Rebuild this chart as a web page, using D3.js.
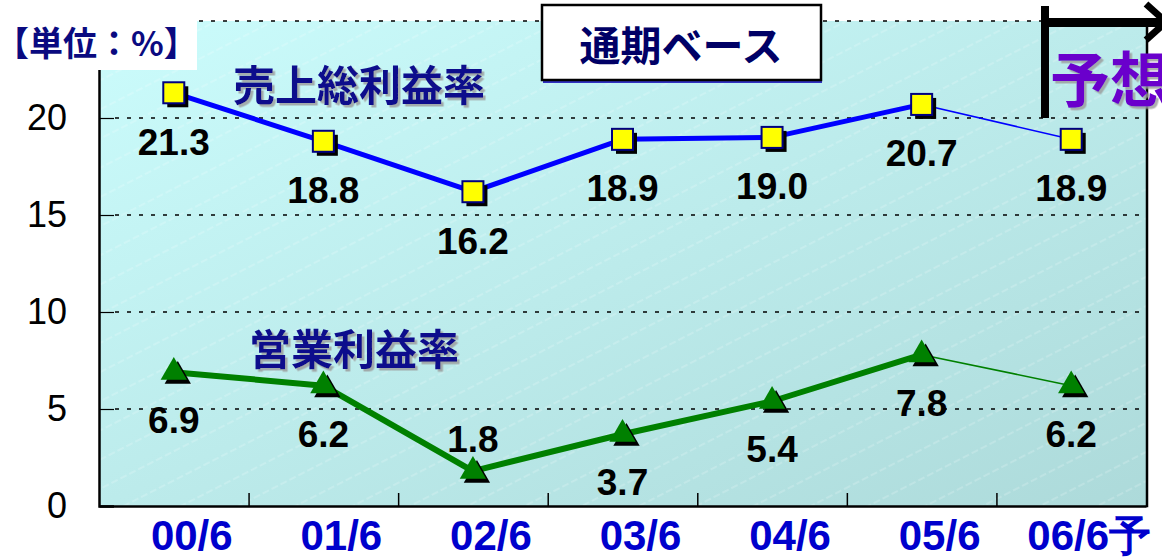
<!DOCTYPE html>
<html lang="ja">
<head>
<meta charset="UTF-8">
<title>通期ベース 利益率</title>
<script src="https://d3js.org/d3.v7.min.js"></script>
<style>
    body { margin: 0; background: #fff; }
    svg { display: block; }
    .num { font-family: "Liberation Sans", Arial, sans-serif; font-weight: bold; }
    .jp { font-family: "Noto Sans CJK JP", "Liberation Sans", sans-serif; font-weight: bold; }
</style>
</head>
<body>
<svg width="1162" height="557"></svg>
<script>
// data
const categories = ["00/6", "01/6", "02/6", "03/6", "04/6", "05/6", "06/6"];
const categoryLabels = ["00/6", "01/6", "02/6", "03/6", "04/6", "05/6", "06/6予"];
const grossMargin = [21.3, 18.8, 16.2, 18.9, 19.0, 20.7, 18.9];
const opMargin = [6.9, 6.2, 1.8, 3.7, 5.4, 7.8, 6.2];
const yTicks = [0, 5, 10, 15, 20];
const gridValues = [5, 10, 15, 20, 25];
const grossName = "売上総利益率";
const opName = "営業利益率";
const unitText = "【単位：%】";
const baseText = "通期ベース";
const forecastText = "予想";

const svg = d3.select("svg");
const plotLeft = 99, plotRight = 1146, plotTop = 21, plotBottom = 506;

const x = d3.scaleBand().domain(categories).range([plotLeft, plotRight]);
const xEdge = d3.scaleLinear().domain([0, categories.length]).range([plotLeft, plotRight]);
const y = d3.scaleLinear().domain([0, 25]).range([plotBottom, plotTop]);
const cx = c => x(c) + x.bandwidth() / 2;

const defs = svg.append("defs");
const grad = defs.append("linearGradient").attr("id", "bg")
    .attr("x1", "0").attr("y1", "0").attr("x2", "1").attr("y2", "1");
grad.append("stop").attr("offset", "0%").attr("stop-color", "#cbfcfc");
grad.append("stop").attr("offset", "100%").attr("stop-color", "#addada");

const pat = defs.append("pattern").attr("id", "stripes")
    .attr("patternUnits", "userSpaceOnUse").attr("width", 40).attr("height", 26)
    .attr("patternTransform", "rotate(-27)");
pat.append("line").attr("x1", 0).attr("y1", 13).attr("x2", 40).attr("y2", 13)
    .attr("stroke", "#ffffff").attr("stroke-opacity", 0.35).attr("stroke-width", 1)
    .attr("stroke-dasharray", "7 3");

// soft gray shadow for the titles
const shadow = defs.append("filter").attr("id", "shadow")
    .attr("x", "-5%").attr("y", "-10%").attr("width", "115%").attr("height", "130%");
shadow.append("feDropShadow").attr("dx", 2.5).attr("dy", 2.5).attr("stdDeviation", 0.6)
    .attr("flood-color", "#9a9a9a").attr("flood-opacity", 0.8);

// plot background
svg.append("rect").attr("x", plotLeft).attr("y", plotTop)
    .attr("width", plotRight - plotLeft).attr("height", plotBottom - plotTop).attr("fill", "url(#bg)");
svg.append("rect").attr("x", plotLeft).attr("y", plotTop)
    .attr("width", plotRight - plotLeft).attr("height", plotBottom - plotTop).attr("fill", "url(#stripes)");

// dashed gridlines
svg.append("g").selectAll("line").data(gridValues).join("line")
    .attr("x1", plotLeft + 16).attr("x2", plotRight)
    .attr("y1", d => y(d)).attr("y2", d => y(d))
    .attr("stroke", "#000").attr("stroke-width", 1.4).attr("stroke-dasharray", "4 8");

// y axis
const yAxis = svg.append("g").attr("transform", `translate(${plotLeft},0)`)
    .call(d3.axisLeft(y).tickValues(yTicks).tickSize(-15).tickPadding(32));
yAxis.select(".domain").attr("stroke-width", 2.5);
yAxis.selectAll(".tick line").attr("stroke-width", 1.2);
yAxis.selectAll(".tick text")
    .attr("font-family", "'Liberation Sans', Arial, sans-serif")
    .attr("font-size", 36).attr("fill", "#000");

// bottom axis, ticks at category edges pointing inward
const xAxis = svg.append("g").attr("transform", `translate(0,${plotBottom})`)
    .call(d3.axisBottom(xEdge).tickValues(d3.range(1, categories.length))
        .tickSize(-13).tickSizeOuter(0).tickFormat(""));
xAxis.select(".domain").attr("stroke-width", 2.5);
xAxis.selectAll(".tick line").attr("stroke-width", 1.5);

// right frame
svg.append("line").attr("x1", plotRight + 1).attr("x2", plotRight + 1)
    .attr("y1", plotTop).attr("y2", plotBottom + 1.2)
    .attr("stroke", "#000").attr("stroke-width", 2.5);

// category labels
svg.append("g").selectAll("text").data(categoryLabels).join("text")
    .attr("class", "num")
    .attr("x", (d, i) => cx(categories[i]) + 18)
    .attr("y", 550)
    .attr("text-anchor", "middle")
    .attr("font-size", 42)
    .attr("fill", "#0000cc")
    .text(d => d);

function drawSeries(values, color, width) {
    const pts = values.map((v, i) => [cx(categories[i]), y(v)]);
    const last = pts.length - 1;
    const line = d3.line();
    svg.append("path").attr("d", line(pts.slice(0, last)))
        .attr("fill", "none").attr("stroke", color).attr("stroke-width", width)
        .attr("stroke-linejoin", "round");
    svg.append("path").attr("d", line(pts.slice(last - 1)))
        .attr("fill", "none").attr("stroke", color).attr("stroke-width", 1.6);
    return pts;
}

// gross margin
const gPts = drawSeries(grossMargin, "#0000ff", 5);
const sq = 21;
svg.append("g").selectAll("rect").data(gPts).join("rect")
    .attr("x", d => d[0] - sq / 2 + 4).attr("y", d => d[1] - sq / 2 + 4)
    .attr("width", sq).attr("height", sq).attr("fill", "#000");
svg.append("g").selectAll("rect").data(gPts).join("rect")
    .attr("x", d => d[0] - sq / 2).attr("y", d => d[1] - sq / 2)
    .attr("width", sq).attr("height", sq)
    .attr("fill", "#ffff00").attr("stroke", "#000080").attr("stroke-width", 2);
svg.append("g").selectAll("text").data(grossMargin).join("text")
    .attr("class", "num")
    .attr("x", (d, i) => gPts[i][0])
    .attr("y", (d, i) => gPts[i][1] + 62)
    .attr("text-anchor", "middle").attr("font-size", 37).attr("fill", "#000")
    .text(d => d.toFixed(1));

// operating margin
const oPts = drawSeries(opMargin, "#008000", 6);
const tri = d3.symbol().type(d3.symbolTriangle).size(300);
svg.append("g").selectAll("path").data(oPts).join("path")
    .attr("d", tri).attr("transform", d => `translate(${d[0] + 4},${d[1] + 4})`)
    .attr("fill", "#000");
svg.append("g").selectAll("path").data(oPts).join("path")
    .attr("d", tri).attr("transform", d => `translate(${d[0]},${d[1]})`)
    .attr("fill", "#008000");
svg.append("g").selectAll("text").data(opMargin).join("text")
    .attr("class", "num")
    .attr("x", (d, i) => oPts[i][0])
    .attr("y", (d, i) => d < 2.5 ? oPts[i][1] - 19 : oPts[i][1] + 61)
    .attr("text-anchor", "middle").attr("font-size", 37).attr("fill", "#000")
    .text(d => d.toFixed(1));

// series names
svg.append("text").attr("class", "jp").attr("x", 233).attr("y", 101)
    .attr("font-size", 42).attr("fill", "#0a0a8c").attr("filter", "url(#shadow)").text(grossName);
svg.append("text").attr("class", "jp").attr("x", 249).attr("y", 365)
    .attr("font-size", 42).attr("fill", "#0a0a8c").attr("filter", "url(#shadow)").text(opName);

// unit label on white
svg.append("rect").attr("x", 0).attr("y", 0).attr("width", 197).attr("height", 70).attr("fill", "#fff");
svg.append("text").attr("class", "jp").attr("x", -5).attr("y", 56)
    .attr("font-size", 34).attr("fill", "#0a0a80").text(unitText);

// "通期ベース" box
svg.append("rect").attr("x", 543).attr("y", 8).attr("width", 279).attr("height", 75).attr("fill", "#3030c0");
svg.append("rect").attr("x", 542).attr("y", 5).attr("width", 279).attr("height", 75)
    .attr("fill", "#fff").attr("stroke", "#000").attr("stroke-width", 2.5);
svg.append("text").attr("class", "jp").attr("x", 681).attr("y", 61)
    .attr("text-anchor", "middle").attr("font-size", 41).attr("fill", "#000066").text(baseText);

// forecast marker
svg.append("rect").attr("x", 1041).attr("y", 6).attr("width", 8).attr("height", y(20) - 6).attr("fill", "#000");
svg.append("rect").attr("x", 1041).attr("y", 18).attr("width", 120).attr("height", 9).attr("fill", "#000");
svg.append("path").attr("d", "M1146,4 L1166,22 L1146,40")
    .attr("fill", "none").attr("stroke", "#000").attr("stroke-width", 7);
svg.append("text").attr("class", "jp").attr("x", 1050).attr("y", 102)
    .attr("font-size", 60).attr("fill", "#6a00cc").attr("filter", "url(#shadow)").text(forecastText);
</script>
</body>
</html>
